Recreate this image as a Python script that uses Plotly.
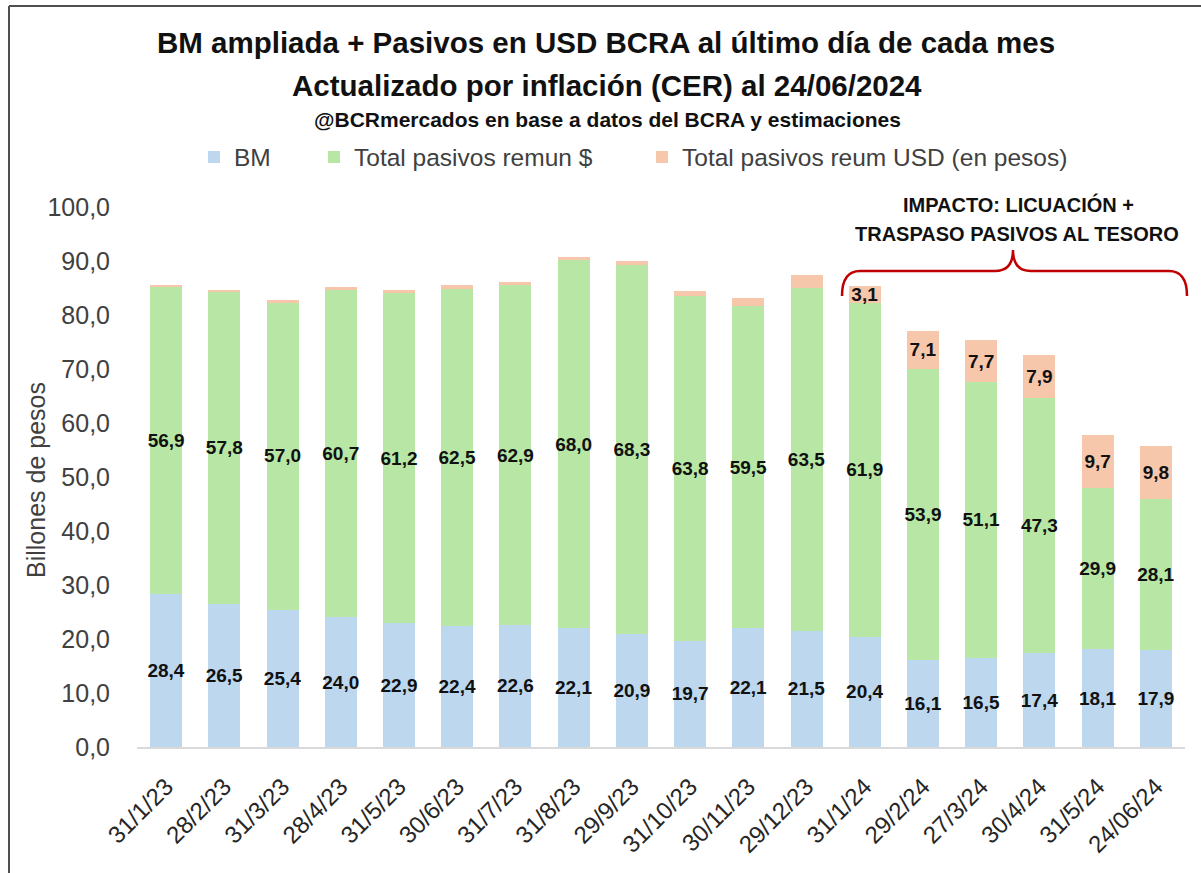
import plotly.graph_objects as go

categories = ["31/1/23", "28/2/23", "31/3/23", "28/4/23", "31/5/23", "30/6/23", "31/7/23",
              "31/8/23", "29/9/23", "31/10/23", "30/11/23", "29/12/23", "31/1/24", "29/2/24",
              "27/3/24", "30/4/24", "31/5/24", "24/06/24"]
bm = [28.4, 26.5, 25.4, 24.0, 22.9, 22.4, 22.6, 22.1, 20.9, 19.7, 22.1, 21.5, 20.4, 16.1, 16.5, 17.4, 18.1, 17.9]
pasivos_pesos = [56.9, 57.8, 57.0, 60.7, 61.2, 62.5, 62.9, 68.0, 68.3, 63.8, 59.5, 63.5, 61.9, 53.9, 51.1, 47.3, 29.9, 28.1]
pasivos_usd = [0.3, 0.2, 0.3, 0.4, 0.5, 0.6, 0.7, 0.6, 0.8, 0.9, 1.6, 2.4, 3.1, 7.1, 7.7, 7.9, 9.7, 9.8]
usd_label_from = 12  # labels shown only from 31/1/24 on
y_ticks = [0, 10, 20, 30, 40, 50, 60, 70, 80, 90, 100]

W, H = 1201, 873
L, R, T, B = 137, 16, 207, 126
PW, PH = W - L - R, H - T - B

def px(x):
    return (x - L) / PW

def py(y):
    return (H - B - y) / PH

def fmt(v):
    return f"{v:.1f}".replace(".", ",")

SANS = "Liberation Sans, Arial, sans-serif"

lab_font = dict(family=SANS, size=19, color="#111111")

fig = go.Figure()
fig.add_trace(go.Bar(name="BM", x=categories, y=bm, marker_color="#BDD7EE",
                     text=[f"<b>{fmt(v)}</b>" for v in bm], legend="legend"))
fig.add_trace(go.Bar(name="Total pasivos remun $", x=categories, y=pasivos_pesos, marker_color="#B7E6A5",
                     text=[f"<b>{fmt(v)}</b>" for v in pasivos_pesos], legend="legend2"))
fig.add_trace(go.Bar(name="Total pasivos reum USD (en pesos)", x=categories, y=pasivos_usd,
                     marker_color="#F7C7AC",
                     text=[f"<b>{fmt(v)}</b>" if i >= usd_label_from else "" for i, v in enumerate(pasivos_usd)],
                     legend="legend3"))
fig.update_traces(textposition="inside", insidetextanchor="middle", textangle=0,
                  constraintext="none", textfont=lab_font, marker_line_width=0,
                  cliponaxis=False, hoverinfo="skip")

shapes = []
# chart border (top and left edges)
shapes.append(dict(type="line", xref="paper", yref="paper", x0=px(9), x1=px(1201), y0=py(6), y1=py(6),
                   line=dict(color="#505050", width=2)))
shapes.append(dict(type="line", xref="paper", yref="paper", x0=px(9), x1=px(9), y0=py(6), y1=py(873),
                   line=dict(color="#505050", width=2)))
# red brace
pts = [(842, 296), (842, 271), (860, 271), (995, 271), (1013, 271), (1013, 250),
       (1013, 271), (1031, 271), (1169, 271), (1187, 271), (1187, 296)]
p = [(px(a), py(b)) for a, b in pts]
path = (f"M {p[0][0]},{p[0][1]} Q {p[1][0]},{p[1][1]} {p[2][0]},{p[2][1]} "
        f"L {p[3][0]},{p[3][1]} Q {p[4][0]},{p[4][1]} {p[5][0]},{p[5][1]} "
        f"Q {p[6][0]},{p[6][1]} {p[7][0]},{p[7][1]} L {p[8][0]},{p[8][1]} "
        f"Q {p[9][0]},{p[9][1]} {p[10][0]},{p[10][1]}")
shapes.append(dict(type="path", xref="paper", yref="paper", path=path,
                   line=dict(color="#C00000", width=2.5)))

def ann(text, x, y, size, color="#111111", **kw):
    return dict(text=text, x=px(x), y=py(y), xref="paper", yref="paper", showarrow=False,
                xanchor="center", yanchor="middle", font=dict(family=SANS, size=size, color=color), **kw)

annotations = [
    ann("<b>BM ampliada + Pasivos en USD BCRA al último día de cada mes</b>", 606, 43, 29.5),
    ann("<b>Actualizado por inflación (CER) al 24/06/2024</b>", 607, 85, 29.5),
    ann("<b>@BCRmercados en base a datos del BCRA y estimaciones</b>", 607, 120, 21),
    ann("<b>IMPACTO: LICUACIÓN +</b>", 1018, 205, 20),
    ann("<b>TRASPASO PASIVOS AL TESORO</b>", 1017, 234, 20),
    ann("Billones de pesos", 36, 480, 25, color="#404040", textangle=-90),
]

leg_common = dict(orientation="h", xanchor="left", yanchor="middle", y=py(157),
                  font=dict(family=SANS, size=24.5, color="#404040"),
                  itemwidth=30, bgcolor="rgba(0,0,0,0)", borderwidth=0)

fig.update_layout(
    width=W, height=H, barmode="stack", bargap=0.45,
    margin=dict(l=L, r=R, t=T, b=B, autoexpand=False),
    paper_bgcolor="white", plot_bgcolor="white",
    separators=",.",
    showlegend=True,
    legend=dict(x=px(194), **leg_common),
    legend2=dict(x=px(314), **leg_common),
    legend3=dict(x=px(642), **leg_common),
    xaxis=dict(tickangle=-45, tickfont=dict(family=SANS, size=24, color="#262626"),
               showgrid=False, showline=True, linecolor="#D9D9D9", linewidth=2,
               ticks="", ticklabelstandoff=14, range=[-0.5, len(categories) - 0.5], fixedrange=True),
    yaxis=dict(range=[0, 100], tickvals=y_ticks, tickformat=".1f", showgrid=False,
               tickfont=dict(family=SANS, size=25, color="#404040"), showline=False,
               zeroline=False, ticks="", ticklabelstandoff=26, fixedrange=True),
    shapes=shapes, annotations=annotations,
)

fig.write_html("out.html", config={"displayModeBar": False},
               post_script="document.body.style.margin='0px';document.body.style.overflow='hidden';")
